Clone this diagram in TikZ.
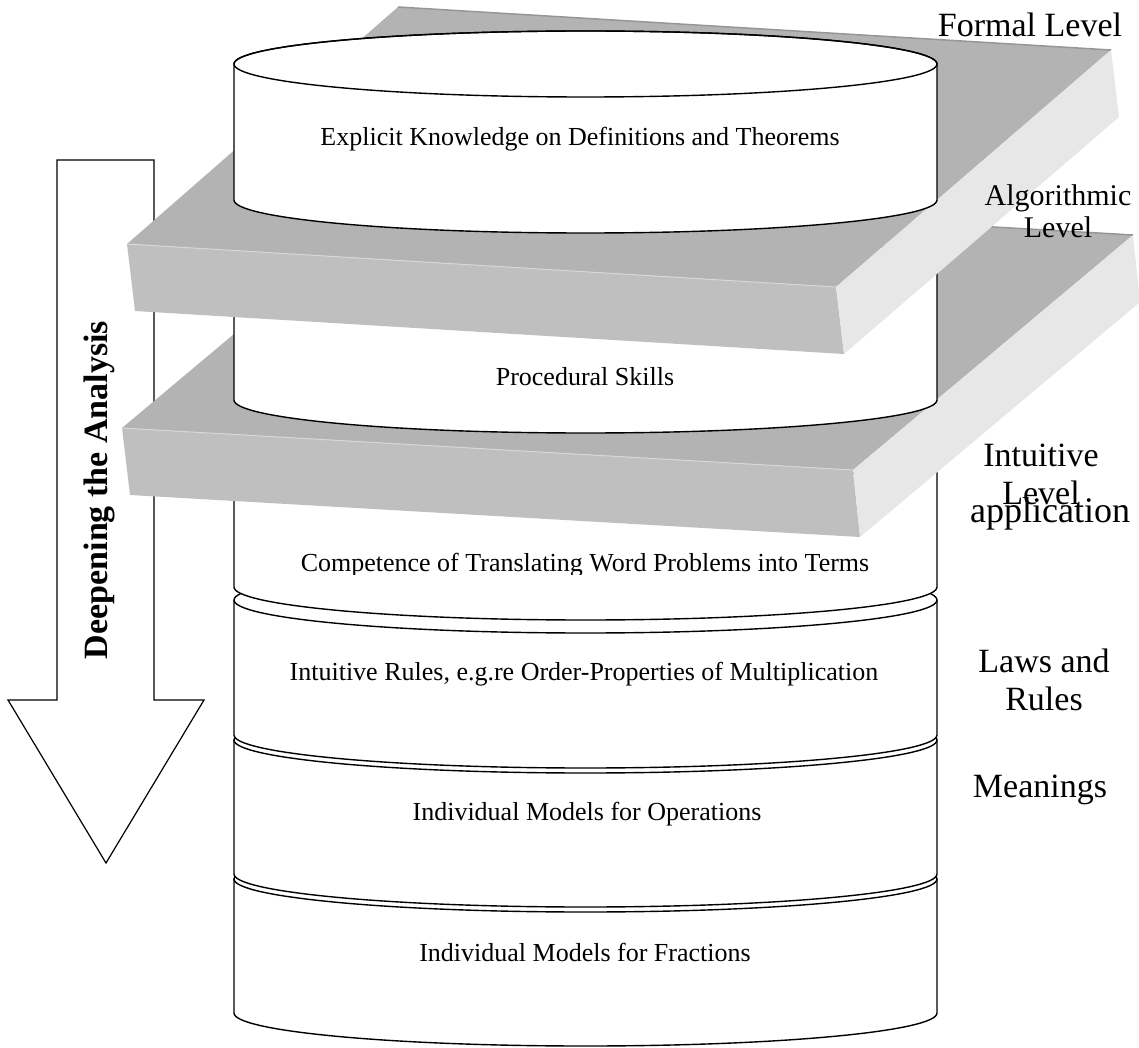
\documentclass[tikz,border=0pt]{standalone}
\usepackage{fontspec}
\setmainfont{Liberation Serif}

\definecolor{slabtop}{RGB}{179,179,179}
\definecolor{slabfront}{RGB}{191,191,191}
\definecolor{slabside}{RGB}{231,231,231}
\definecolor{slabedge}{RGB}{150,150,150}

\tikzset{
  layer/.style = {draw, fill=white, line width=1.4pt},
  layer line/.style = {draw, line width=1.4pt},
  inner text/.style = {anchor=base, font=\fontsize{26}{30}\selectfont},
  level text/.style = {align=center, font=\fontsize{34}{38}\selectfont},
  topface/.style = {fill=slabtop},
  frontface/.style = {fill=slabfront},
  sideface/.style = {fill=slabside},
}

\begin{document}
\begin{tikzpicture}[x=1pt, y=-1pt]
  \useasboundingbox (0,0) rectangle (1139,1048);

  % the arrow on the left
  \filldraw[fill=white, draw=black, line width=1.2pt]
    (57,160) -- (154,160) -- (154,700) -- (204,700) -- (106,863) -- (8,700) -- (57,700) -- cycle;
  \node (deep) [rotate=90, font=\bfseries\fontsize{34}{38}\selectfont] at (99,490) {Deepening the Analysis};

  % lower drums, from the bottom up
  \foreach \t/\b in {879/1013, 740/874, 600/735, 452/587} {
    \filldraw[layer] (234,\t) -- (234,\b)
      arc[start angle=180, end angle=360, x radius=351.5pt, y radius=33pt]
      -- (937,\t)
      arc[start angle=0, end angle=180, x radius=351.5pt, y radius=33pt] -- cycle;
    \draw[layer line] (234,\t) arc[start angle=180, end angle=360, x radius=351.5pt, y radius=33pt];
  }
  \node (fractions) [inner text] at (585,961) {Individual Models for Fractions};
  \node (operations) [inner text] at (587,820) {Individual Models for Operations};
  \node (rules) [inner text] at (584,680) {Intuitive Rules, e.g.re Order-Properties of Multiplication};
  \begin{scope}
    \clip (234,530) rectangle (937,574);
    \node (terms) [inner text] at (585,571) {Competence of Translating Word Problems into Terms};
  \end{scope}

  % algorithmic slab
  \fill[topface] (122,428) -- (853,470) -- (1133,235) -- (402,193) -- cycle;
  \fill[frontface] (122,428) -- (853,470) -- (860,537) -- (130,495) -- cycle;
  \fill[sideface] (853,470) -- (1133,235) -- (1140,302) -- (860,537) -- cycle;
  \draw[slabedge, line width=1.5pt] (402,193) -- (1133,235);
  \draw[slabfront!60!white, line width=1pt] (122,428) -- (853,470);

  % procedural drum
  \filldraw[layer] (234,265) -- (234,400)
    arc[start angle=180, end angle=360, x radius=351.5pt, y radius=33pt]
    -- (937,265)
    arc[start angle=0, end angle=180, x radius=351.5pt, y radius=33pt] -- cycle;
  \node (skills) [inner text] at (585,385) {Procedural Skills};

  % formal slab
  \fill[topface] (127,244) -- (836,287) -- (1111,50) -- (398,7) -- cycle;
  \fill[frontface] (127,244) -- (836,287) -- (844,354) -- (135,311) -- cycle;
  \fill[sideface] (836,287) -- (1111,50) -- (1119,117) -- (844,354) -- cycle;
  \draw[slabedge, line width=1.5pt] (398,7) -- (1111,50);
  \draw[slabfront!60!white, line width=1pt] (127,244) -- (836,287);

  % top drum
  \filldraw[layer] (234,64) -- (234,200)
    arc[start angle=180, end angle=360, x radius=351.5pt, y radius=33pt]
    -- (937,64)
    arc[start angle=0, end angle=180, x radius=351.5pt, y radius=33pt] -- cycle;
  \draw[layer line] (585.5,64) ellipse [x radius=351.5pt, y radius=33pt];
  \node (explicit) [inner text] at (580,146) {Explicit Knowledge on Definitions and Theorems};

  % level names on the right
  \node (formal) [level text, anchor=base] at (1030,37) {Formal Level};
  \node (algo) [level text, font=\fontsize{30}{32}\selectfont] at (1058,211) {Algorithmic\\Level};
  \node (intuitive) [level text] at (1041,474) {Intuitive\\Level};
  \node (application) [level text, anchor=base, font=\fontsize{36}{38}\selectfont] at (1050,522) {application};
  \node (laws) [level text] at (1044,680) {Laws and\\Rules};
  \node (meanings) [level text, anchor=base] at (1040,797) {Meanings};
\end{tikzpicture}
\end{document}
